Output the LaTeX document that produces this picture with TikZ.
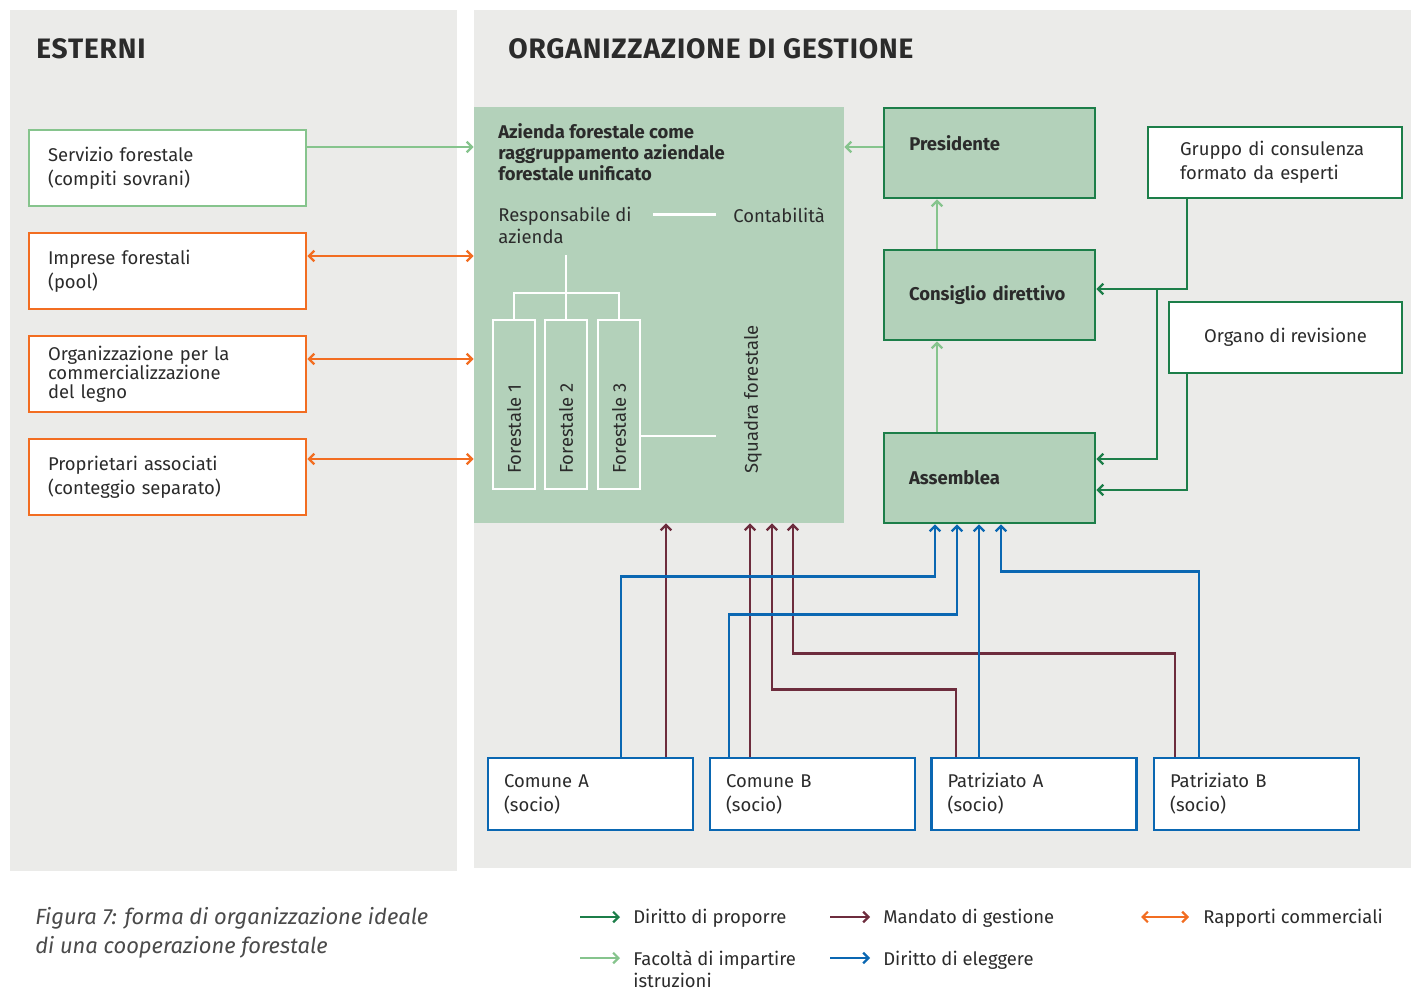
\documentclass[tikz,border=0pt]{standalone}
\usepackage{fontspec}
\setmainfont{Fira Sans}
\usetikzlibrary{arrows.meta,fit,positioning}

\definecolor{panel}{HTML}{EBEBE9}
\definecolor{azfill}{HTML}{B3D1BA}
\definecolor{dgreen}{HTML}{1C7E49}
\definecolor{lgreen}{HTML}{86C48D}
\definecolor{orng}{HTML}{F26D21}
\definecolor{maroon}{HTML}{6D2C3D}
\definecolor{blu}{HTML}{0A67B2}
\definecolor{txt}{HTML}{2B2B2B}
\definecolor{capgray}{HTML}{4A4A4A}

\newcommand\boxfnt{\fontsize{10.5}{13.6}\selectfont}
\newcommand\tightfnt{\fontsize{10.5}{10.8}\selectfont}
\newcommand\boldfnt{\fontsize{10.5}{11.9}\selectfont\bfseries}
\newcommand\titlefnt{\fontsize{16}{18}\selectfont\bfseries\addfontfeature{LetterSpace=3}}
\newcommand\capfnt{\fontsize{12.5}{16.4}\selectfont\itshape}

\tikzset{
  every node/.style={text=txt, inner sep=0pt},
  box/.style={rectangle, fill=white, line width=1.6pt, align=left, font=\boxfnt},
  ext/.style={box, minimum width=5.54cm, minimum height=1.52cm, text width=4.78cm},
  sbox/.style={box, draw=blu, minimum width=4.1cm, minimum height=1.44cm, text width=3.46cm},
  gbox/.style={box, fill=azfill, draw=dgreen, minimum width=4.22cm, minimum height=1.8cm, text width=3.22cm, font=\boldfnt},
  wgbox/.style={box, draw=dgreen, minimum height=1.42cm},
  fbox/.style={rectangle, draw=white, line width=1.6pt},
  wline/.style={draw=white, line width=1.6pt},
  conn/.style={line width=1.3pt, ->},
  proporre/.style={conn, draw=dgreen},
  facolta/.style={conn, draw=lgreen},
  mandato/.style={conn, draw=maroon},
  eleggere/.style={conn, draw=blu},
  rapporti/.style={line width=1.3pt, <->, draw=orng}
}

\begin{document}
\begin{tikzpicture}[x=0.02cm, y=-0.02cm, >={Straight Barb[length=3pt,width=6pt]}]
\useasboundingbox (0,0) rectangle (1411,990);

% panels
\fill[panel] (10,10) rectangle (457,871);
\fill[panel] (474,10) rectangle (1411,868);
\node[anchor=base west, font=\titlefnt] (t-est) at (36,59) {ESTERNI};
\node[anchor=base west, font=\titlefnt] (t-org) at (508,59) {ORGANIZZAZIONE DI GESTIONE};

% esterni
\node[ext, draw=lgreen] (servizio) at (167.5,168) {Servizio forestale\\(compiti sovrani)};
\node[ext, draw=orng] (imprese) at (167.5,271) {Imprese forestali\\(pool)};
\node[ext, draw=orng, font=\tightfnt] (legno) at (167.5,374) {Organizzazione per la\\commercializzazione\\del legno};
\node[ext, draw=orng] (propr) at (167.5,477) {Proprietari associati\\(conteggio separato)};

% azienda forestale
\node[fill=azfill, fit={(474,107) (844,523)}] (azienda) {};
\node[anchor=north west, align=left, font=\boldfnt] (az-t) at (498,123) {Azienda forestale come\\raggruppamento aziendale\\forestale unificato};
\node[anchor=north west, align=left, font={\fontsize{10.5}{12.5}\selectfont}] (resp) at (498,207) {Responsabile di\\azienda};
\node[anchor=base west, font=\boxfnt] (conta) at (733,222) {Contabilità};
\node[fbox, fit={(493,320) (535,489)}] (f1) {};
\node[fbox, fit={(545,320) (587,489)}] (f2) {};
\node[fbox, fit={(598,320) (640,489)}] (f3) {};
\node[rotate=90, anchor=west, font=\boxfnt] (f1-t) at (514,474) {Forestale 1};
\node[rotate=90, anchor=west, font=\boxfnt] (f2-t) at (566,474) {Forestale 2};
\node[rotate=90, anchor=west, font=\boxfnt] (f3-t) at (619,474) {Forestale 3};
\node[rotate=90, anchor=west, font=\boxfnt] (squadra) at (753,474) {Squadra forestale};
\coordinate (tree-top) at (566,255);
\coordinate (jn) at (566,293);
\coordinate (sq-end) at (716,436);
\draw[wline, shorten <=0.42cm, shorten >=0.34cm] (resp.east |- conta.west) -- (conta.west);
\draw[wline] (tree-top) -- (f2.north);
\draw[wline] (f1.north) |- (jn) -| (f3.north);
\draw[wline] (f3.east |- sq-end) -- (sq-end);

% organi
\node[gbox] (pres) at (989.5,153) {};
\node[anchor=base west, font=\boldfnt] (pres-t) at (909,151) {Presidente};
\node[gbox] (cons) at (989.5,295) {Consiglio direttivo};
\node[gbox] (ass) at (989.5,478) {Assemblea};
\node[wgbox, minimum width=5.08cm, text width=3.8cm] (gruppo) at (1275,162.5) {Gruppo di consulenza\\formato da esperti};
\node[wgbox, minimum width=4.66cm, align=center] (organo) at (1285.5,337.5) {Organo di revisione};

% soci
\node[sbox] (comA) at (590.5,794) {Comune A\\(socio)};
\node[sbox] (comB) at (812.5,794) {Comune B\\(socio)};
\node[sbox] (patA) at (1034,794) {Patriziato A\\(socio)};
\node[sbox] (patB) at (1256.5,794) {Patriziato B\\(socio)};

% connectors
\draw[facolta] ([yshift=0.42cm]servizio.east) -- ([yshift=0.42cm]servizio.east -| azienda.west);
\draw[rapporti] ([yshift=0.3cm]imprese.east) -- ([yshift=0.3cm]imprese.east -| azienda.west);
\draw[rapporti] ([yshift=0.3cm]legno.east) -- ([yshift=0.3cm]legno.east -| azienda.west);
\draw[rapporti] ([yshift=0.36cm]propr.east) -- ([yshift=0.36cm]propr.east -| azienda.west);
\draw[facolta] ([yshift=0.12cm]pres.west) -- ([yshift=0.12cm]pres.west -| azienda.east);
\draw[facolta] ([xshift=-1.05cm]cons.north) -- ([xshift=-1.05cm]pres.south);
\draw[facolta] ([xshift=-1.05cm]ass.north) -- ([xshift=-1.05cm]cons.south);
\coordinate (br) at (1157,289);
\draw[proporre] ([xshift=-1.76cm]gruppo.south) |- ([yshift=0.12cm]cons.east);
\draw[proporre] (br) |- ([yshift=0.38cm]ass.east);
\draw[proporre] ([xshift=-1.97cm]organo.south) |- ([yshift=-0.24cm]ass.east);

\draw[mandato] ([xshift=1.51cm]comA.north) -- ([xshift=1.51cm]comA.north |- azienda.south);
\draw[mandato] ([xshift=-1.25cm]comB.north) -- ([xshift=-1.25cm]comB.north |- azienda.south);
\draw[mandato] ([xshift=-1.56cm]patA.north) -- ++(0,-67) -| ([xshift=2.26cm]azienda.south);
\draw[mandato] ([xshift=-1.63cm]patB.north) -- ++(0,-103) -| ([xshift=2.68cm]azienda.south);

\draw[eleggere] ([xshift=0.61cm]comA.north) -- ++(0,-180) -| ([xshift=-1.09cm]ass.south);
\draw[eleggere] ([xshift=-1.67cm]comB.north) -- ++(0,-142) -| ([xshift=-0.65cm]ass.south);
\draw[eleggere] ([xshift=-1.1cm]patA.north) -- ([xshift=-1.1cm]patA.north |- ass.south);
\draw[eleggere] ([xshift=-1.15cm]patB.north) -- ++(0,-185) -| ([xshift=0.23cm]ass.south);

% legenda
\node[anchor=north west, align=left, font=\capfnt, text=capgray] (caption) at (35,907) {Figura 7: forma di organizzazione ideale\\di una cooperazione forestale};
\coordinate (lg-p) at (580,917);
\coordinate (lg-f) at (580,958);
\coordinate (lg-m) at (830,917);
\coordinate (lg-e) at (830,958);
\coordinate (lg-r) at (1141,917);
\draw[proporre] (lg-p) -- ++(40,0);
\draw[facolta] (lg-f) -- ++(40,0);
\draw[mandato] (lg-m) -- ++(40,0);
\draw[eleggere] (lg-e) -- ++(40,0);
\draw[rapporti] (lg-r) -- ++(48,0);
\node[anchor=west, font=\boxfnt] (lt-p) at (633,918) {Diritto di proporre};
\node[anchor=north west, align=left, font={\fontsize{10.5}{12.8}\selectfont}] (lt-f) at (633,950) {Facoltà di impartire\\istruzioni};
\node[anchor=west, font=\boxfnt] (lt-m) at (883,918) {Mandato di gestione};
\node[anchor=west, font=\boxfnt] (lt-e) at (883,960) {Diritto di eleggere};
\node[anchor=west, font=\boxfnt] (lt-r) at (1203,918) {Rapporti commerciali};
\end{tikzpicture}
\end{document}
